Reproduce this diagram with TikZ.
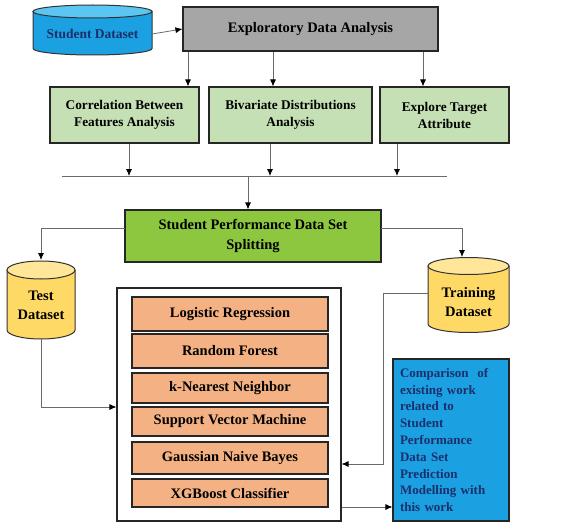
\documentclass[tikz,border=0pt]{standalone}
\usepackage{fontspec}
\setmainfont{Liberation Serif}
\usetikzlibrary{arrows.meta,calc}
\definecolor{edagray}{HTML}{A6A6A6}
\definecolor{lgreen}{HTML}{C5E0B4}
\definecolor{sgreen}{HTML}{8DC63F}
\definecolor{orng}{HTML}{F4B183}
\definecolor{skyb}{HTML}{1BA1E2}
\definecolor{skytop}{HTML}{5CC6F2}
\definecolor{ylw}{HTML}{FFD966}
\definecolor{ylwtop}{HTML}{FFE699}
\definecolor{navy}{HTML}{1A2F6B}
\definecolor{linec}{HTML}{6A6A6A}
\newcommand\drawcyl[7]{%
  \filldraw[draw=black!80, line width=1pt, fill=#6] ({#1-#2},#3) -- ({#1-#2},#4)
     arc[start angle=180,end angle=360,x radius=#2pt,y radius=#5pt] -- ({#1+#2},#3) -- cycle;
  \filldraw[draw=black!80, line width=1pt, fill=#7] (#1,#3) ellipse[x radius=#2pt, y radius=#5pt];
}
\begin{document}
\begin{tikzpicture}[x=1pt,y=-1pt,
  box/.style={draw=black!85, line width=1.1pt, font=\bfseries\fontsize{13.3}{17}\selectfont, align=center, inner sep=0pt},
  mbox/.style={box, fill=orng, minimum width=196pt, font=\bfseries\fontsize{14.5}{17}\selectfont},
  lbl/.style={font=\bfseries\fontsize{14.5}{19}\selectfont, align=center, inner sep=0pt},
  conn/.style={draw=linec, line width=0.8pt},
  arr/.style={conn, -{Latex[length=7pt,width=6pt,color=black]}}]
\useasboundingbox (0,0) rectangle (568,527);
\fill[white] (0,0) rectangle (568,527);

% cylinders
\drawcyl{92.5}{59.5}{11.5}{48.5}{6.5}{skyb}{skytop}
\node[lbl, text=navy, minimum width=110pt, minimum height=28pt, font=\bfseries\fontsize{13.5}{16}\selectfont] (sd) at (92.5,34) {Student Dataset};
\drawcyl{41}{34}{270}{330}{9}{ylw}{ylwtop}
\node[lbl, minimum width=66pt, minimum height=40pt] (test) at (41,305) {Test\\Dataset};
\drawcyl{468.5}{40.5}{266}{324}{8.5}{ylw}{ylwtop}
\node[lbl, minimum width=78pt, minimum height=40pt] (train) at (468.5,302) {Training\\Dataset};

% boxes
\node[box, fill=edagray, minimum width=255pt, minimum height=44pt, font=\bfseries\fontsize{14.5}{17}\selectfont] (eda) at (310.5,29) {Exploratory Data Analysis};
\node[box, fill=lgreen, minimum width=149pt, minimum height=56pt] (g1) at (124.5,115) {Correlation Between\\Features Analysis};
\node[box, fill=lgreen, minimum width=163pt, minimum height=56pt] (g2) at (290.5,115) {Bivariate Distributions\\Analysis};
\node[box, fill=lgreen, minimum width=129pt, minimum height=56pt] (g3) at (444.5,115) {Explore Target\\Attribute};
\node[box, fill=sgreen, minimum width=256pt, minimum height=52pt, font=\bfseries\fontsize{14.5}{20}\selectfont] (split) at (253,236) {Student Performance Data Set\\Splitting};

\node[box, minimum width=224pt, minimum height=233pt] (big) at (229,404.5) {};
\node[mbox, minimum height=34pt] (m1) at (230,314) {Logistic Regression};
\node[mbox, minimum height=34pt] (m2) at (230,351) {Random Forest};
\node[mbox, minimum height=30pt] (m3) at (230,388) {k-Nearest Neighbor};
\node[mbox, minimum height=29pt] (m4) at (230,421.5) {Support Vector Machine};
\node[mbox, minimum height=32pt] (m5) at (230,458) {Gaussian Naive Bayes};
\node[mbox, minimum height=28pt] (m6) at (230,493) {XGBoost Classifier};

\node[box, fill=skyb, minimum width=116pt, minimum height=162pt, text=navy, align=left, text width=102pt, font=\bfseries\fontsize{13}{16.8}\selectfont] (blue) at (451,440) {Comparison\ \ of\\existing work\\related to\\Student\\Performance\\Data Set\\Prediction\\Modelling with\\this work};

% helper coordinates
\coordinate (x188) at (188,0);
\coordinate (x273) at (273,0);
\coordinate (x423) at (423,0);
\coordinate (x129) at (129,0);
\coordinate (x270) at (270,0);
\coordinate (x397) at (397,0);
\coordinate (x152) at (152,0);
\coordinate (busL) at (62,176);
\coordinate (busR) at (447,176);
\coordinate (busM) at (248,176);
\coordinate (sL) at (125,228);
\coordinate (sR) at (381,228);
\coordinate (tcorner) at (41,228);
\coordinate (rcorner) at (462,228);
\coordinate (tbend) at (41,407);
\coordinate (rstart) at (428,293);
\coordinate (rbend1) at (383,293);
\coordinate (rbend2) at (383,464);
\coordinate (y407) at (0,407);
\coordinate (y464) at (0,464);
\coordinate (y507) at (0,507);
\coordinate (testbot) at (41,339);

% connectors
\draw[arr] (x152 |- sd.east) -- (eda.west);
\draw[arr] (x188 |- eda.south) -- (x188 |- g1.north);
\draw[arr] (x273 |- eda.south) -- (x273 |- g2.north);
\draw[arr] (x423 |- eda.south) -- (x423 |- g3.north);
\draw[arr] (x129 |- g1.south) -- (x129 |- busL);
\draw[arr] (x270 |- g2.south) -- (x270 |- busL);
\draw[arr] (x397 |- g3.south) -- (x397 |- busL);
\draw[conn] (busL) -- (busR);
\draw[arr] (busM) -- (busM |- split.north);
\draw[arr] (sL) -- (tcorner) -- ++(0,32);
\draw[arr] (sR) -- (rcorner) -- ++(0,29);
\draw[arr] (testbot) -- (tbend) -- (big.west |- y407);
\draw[arr] (rstart) -- (rbend1) -- (rbend2) -- (big.east |- y464);
\draw[arr] (big.east |- y507) -- (blue.west |- y507);
\end{tikzpicture}
\end{document}
